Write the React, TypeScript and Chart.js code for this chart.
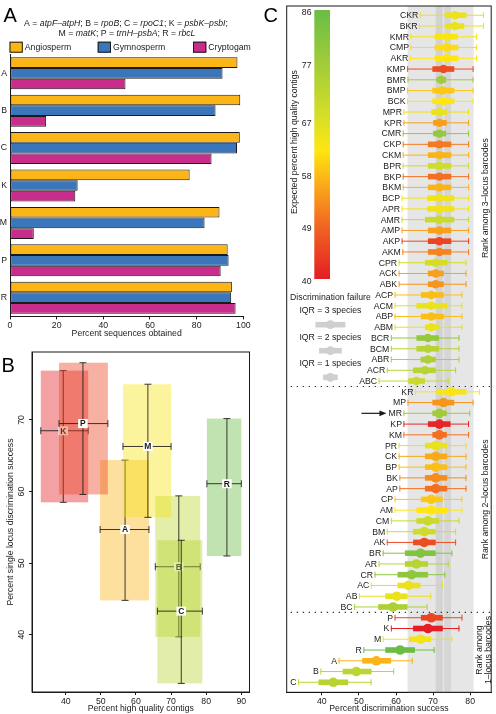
import React, { useEffect, useRef } from "react";
import { Chart, registerables } from "chart.js";

Chart.register(...registerables);

const FONT = "'Liberation Sans', Arial, Helvetica, sans-serif";
const INK = "#1a1a1a";

// ---------------- Panel A data ----------------
const geneLetters = ["A", "B", "C", "K", "M", "P", "R"];
const groupNames = ["Angiosperm", "Gymnosperm", "Cryptogam"];
const angiospermPct = [97.5, 98.7, 98.5, 77.0, 89.8, 93.3, 95.1];
const gymnospermPct = [91.1, 88.1, 97.3, 29.0, 83.4, 93.7, 94.8];
const cryptogamPct = [49.5, 15.5, 86.4, 28.0, 10.2, 90.3, 96.7];
const pctTicks = [0, 20, 40, 60, 80, 100];
const geneKeyLine1: [string, boolean][] = [
  ["A = ", false], ["atpF–atpH", true], ["; B = ", false], ["rpoB", true],
  ["; C = ", false], ["rpoC1", true], ["; K = ", false], ["psbK–psbI", true], [";", false],
];
const geneKeyLine2: [string, boolean][] = [
  ["M = ", false], ["matK", true], ["; P = ", false], ["trnH–psbA", true],
  ["; R = ", false], ["rbcL", true],
];

// ---------------- Panel B data ----------------
const contigLo = [49.8, 65.5, 66.1, 32.9, 56.3, 38.1, 80.2];
const contigMed = [56.9, 72.2, 72.9, 39.3, 63.4, 44.9, 85.9];
const contigHi = [63.7, 78.3, 78.9, 46.4, 70.0, 52.0, 90.0];
const singleLo = [44.8, 39.7, 33.2, 58.5, 56.4, 59.6, 51.0];
const singleMed = [54.7, 49.5, 43.3, 68.5, 66.3, 69.5, 61.1];
const singleHi = [64.4, 59.4, 53.2, 76.9, 75.0, 78.0, 70.2];
const contigTicks = [40, 50, 60, 70, 80, 90];
const singleTicks = [40, 50, 60, 70];

// ---------------- Panel C data ----------------
const rowNames = [
  "CKR", "BKR", "KMR", "CMP", "AKR", "KMP", "BMR", "BMP", "BCK", "MPR", "KPR", "CMR",
  "CKP", "CKM", "BPR", "BKP", "BKM", "BCP", "APR", "AMR", "AMP", "AKP", "AKM", "CPR",
  "ACK", "ABK", "ACP", "ACM", "ABP", "ABM", "BCR", "BCM", "ABR", "ACR", "ABC",
  "KR", "MP", "MR", "KP", "KM", "PR", "CK", "BP", "BK", "AP", "CP", "AM", "CM", "BM",
  "AK", "BR", "AR", "CR", "AC", "AB", "BC",
  "P", "K", "M", "R", "A", "B", "C",
];
const rowLo = [
  66.4, 66.2, 63.9, 63.9, 63.7, 63.0, 63.1, 63.0, 63.0, 62.0, 62.0, 61.8,
  61.8, 61.8, 61.8, 61.8, 61.8, 61.5, 61.5, 61.5, 61.5, 61.5, 61.7, 60.7,
  60.7, 60.7, 59.6, 59.6, 59.6, 59.6, 58.6, 58.6, 58.6, 57.5, 55.3,
  65.1, 63.1, 62.0, 62.0, 62.0, 60.7, 60.7, 60.7, 60.9, 60.9, 59.6, 59.6, 58.6, 57.5,
  57.5, 56.4, 55.3, 54.2, 53.2, 50.0, 48.7,
  59.6, 58.6, 56.4, 51.2, 44.5, 39.6, 33.6,
];
const rowQ1 = [
  73.1, 73.3, 70.4, 70.4, 70.4, 69.8, 70.9, 69.8, 69.8, 69.5, 70.0, 70.0,
  68.6, 68.6, 68.6, 68.6, 68.6, 68.4, 68.4, 67.8, 68.6, 68.6, 68.6, 67.8,
  68.6, 68.6, 66.7, 65.5, 66.7, 67.8, 65.5, 65.5, 66.6, 64.6, 63.3,
  70.9, 69.8, 69.8, 68.6, 69.8, 67.8, 67.8, 67.8, 67.8, 67.8, 66.7, 65.5, 65.5, 64.6,
  64.6, 62.4, 62.4, 60.4, 60.4, 57.1, 55.2,
  66.7, 64.6, 63.5, 57.1, 50.9, 45.6, 39.1,
];
const rowMed = [
  75.9, 75.9, 73.7, 73.7, 73.7, 72.8, 72.2, 72.5, 72.8, 71.7, 71.7, 71.7,
  71.7, 71.7, 71.7, 71.7, 71.7, 71.7, 71.7, 71.7, 71.7, 71.7, 71.7, 70.7,
  70.7, 70.7, 69.5, 69.5, 69.5, 69.5, 68.6, 68.6, 68.6, 67.8, 65.5,
  74.9, 72.8, 71.7, 71.7, 71.7, 70.7, 70.7, 70.7, 70.7, 70.7, 69.5, 69.5, 68.6, 67.6,
  67.6, 66.6, 65.5, 64.2, 63.3, 60.2, 59.2,
  69.5, 68.6, 66.6, 61.1, 54.7, 49.3, 43.1,
];
const rowQ3 = [
  79.0, 78.4, 76.6, 76.8, 76.8, 75.7, 73.5, 75.7, 75.7, 73.7, 73.7, 73.5,
  74.9, 74.9, 74.9, 74.9, 74.9, 75.7, 75.7, 75.7, 74.9, 74.9, 74.9, 73.8,
  72.9, 72.9, 72.9, 73.8, 72.9, 71.7, 71.6, 71.6, 70.7, 70.7, 67.8,
  79.0, 75.7, 73.7, 74.7, 73.7, 73.8, 73.8, 73.8, 73.8, 73.8, 72.6, 73.8, 71.6, 70.7,
  70.7, 70.7, 68.6, 68.6, 66.6, 63.1, 63.1,
  72.6, 72.6, 69.5, 65.1, 58.7, 53.4, 47.1,
];
const rowHi = [
  83.7, 83.7, 81.8, 81.8, 81.8, 80.9, 80.9, 80.9, 80.9, 79.7, 79.7, 79.7,
  79.7, 79.7, 79.7, 79.7, 79.7, 79.7, 79.7, 79.7, 79.7, 79.7, 79.7, 79.0,
  79.0, 79.0, 77.9, 77.9, 77.9, 77.9, 77.1, 77.1, 77.1, 76.2, 74.2,
  82.6, 80.9, 80.0, 79.7, 79.7, 79.0, 79.0, 79.0, 79.0, 79.0, 77.9, 77.9, 77.1, 76.2,
  76.2, 75.2, 74.2, 73.3, 72.6, 69.5, 68.5,
  77.9, 77.1, 75.2, 70.4, 64.5, 59.5, 53.4,
];
// expected percent high quality contigs (colour of each row)
const rowContigs = [
  65, 65, 63, 61, 62, 46, 77, 59, 62, 65, 55, 79,
  51, 57, 69, 50, 57, 64, 64, 70, 55, 45, 52, 68,
  55, 54, 58, 65, 58, 65, 79, 73, 75, 73, 70,
  63, 54, 77, 41, 50, 65, 56, 58, 53, 50, 59, 62, 70, 69,
  46, 82, 73, 80, 65, 65, 75,
  44.9, 39.3, 63.4, 85.9, 56.9, 72.2, 72.9,
];
const highlightedRow = "MR";
const successTicks = [40, 50, 60, 70, 80];
const bandLight = [63.1, 80.9];
const bandDark1 = [70.7, 72.6];
const bandDark2 = [73.0, 74.8];
const colorbarTicks = [86, 77, 67, 58, 49, 40];
const iqrLegend = ["IQR = 3 species", "IQR = 2 species", "IQR = 1 species"];

// colour scale of expected percent high quality contigs
const cmapValues = [40, 49, 55, 62, 67, 77, 86];
const cmapColors = ["#E31E24", "#F26522", "#F8A01C", "#FFE60F", "#DAE026", "#A0CC3A", "#6ABD45"];

function hexToRgb(h: string): number[] {
  const n = parseInt(h.slice(1), 16);
  return [(n >> 16) & 255, (n >> 8) & 255, n & 255];
}
function colormapRgb(v: number): number[] {
  const vs = cmapValues;
  if (v <= vs[0]) return hexToRgb(cmapColors[0]);
  if (v >= vs[vs.length - 1]) return hexToRgb(cmapColors[vs.length - 1]);
  for (let i = 0; i < vs.length - 1; i++) {
    if (v <= vs[i + 1]) {
      const t = (v - vs[i]) / (vs[i + 1] - vs[i]);
      const a = hexToRgb(cmapColors[i]);
      const b = hexToRgb(cmapColors[i + 1]);
      return a.map((c, k) => Math.round(c + (b[k] - c) * t));
    }
  }
  return hexToRgb(cmapColors[0]);
}
function colormap(v: number, alpha = 1): string {
  const [r, g, b] = colormapRgb(v);
  return `rgba(${r},${g},${b},${alpha})`;
}

const groupColors = ["#FBB517", "#3B75BA", "#C92D8B"];

function fixFit(size: number) {
  return (s: any) => {
    if (s.isHorizontal()) s.height = size;
    else s.width = size;
    s.paddingLeft = 0;
    s.paddingRight = 0;
    s.paddingTop = 0;
    s.paddingBottom = 0;
  };
}
function setTicks(values: number[]) {
  return (s: any) => {
    s.ticks = values.map((v) => ({ value: v }));
  };
}
function font(size: number, extra = "") {
  return `${extra ? extra + " " : ""}${size}px ${FONT}`;
}
function drawRich(ctx: CanvasRenderingContext2D, segs: [string, boolean][], cx: number, baseY: number, size: number) {
  let total = 0;
  const widths = segs.map(([t, it]) => {
    ctx.font = font(size, it ? "italic" : "");
    const w = ctx.measureText(t).width;
    total += w;
    return w;
  });
  let x = cx - total / 2;
  ctx.textAlign = "left";
  ctx.textBaseline = "alphabetic";
  segs.forEach(([t, it], i) => {
    ctx.font = font(size, it ? "italic" : "");
    ctx.fillText(t, x, baseY);
    x += widths[i];
  });
}
function rotText(ctx: CanvasRenderingContext2D, text: string, x: number, y: number) {
  ctx.save();
  ctx.translate(x, y);
  ctx.rotate(-Math.PI / 2);
  ctx.textAlign = "center";
  ctx.textBaseline = "middle";
  ctx.fillText(text, 0, 0);
  ctx.restore();
}

const axisFont = { family: FONT, size: 8.7 };

// ---------------- Panel A ----------------
const panelAPlugin = {
  id: "panelA",
  afterDraw(chart: any) {
    const ctx: CanvasRenderingContext2D = chart.ctx;
    ctx.save();
    ctx.fillStyle = "#000";
    ctx.font = font(20);
    ctx.textAlign = "left";
    ctx.textBaseline = "alphabetic";
    ctx.fillText("A", 3.5, 22);
    ctx.fillStyle = INK;
    drawRich(ctx, geneKeyLine1, 126, 25.8, 8.7);
    drawRich(ctx, geneKeyLine2, 127, 36.4, 8.7);
    const legendX = [9.5, 97.7, 193];
    groupNames.forEach((n, i) => {
      ctx.fillStyle = groupColors[i];
      ctx.fillRect(legendX[i], 41.7, 13.3, 11);
      ctx.strokeStyle = INK;
      ctx.lineWidth = 1;
      ctx.strokeRect(legendX[i] + 0.5, 42.2, 12.3, 10);
      ctx.fillStyle = INK;
      ctx.font = font(8.7);
      ctx.textAlign = "left";
      ctx.textBaseline = "middle";
      ctx.fillText(n, legendX[i] + 15.3, 47.4);
    });
    ctx.restore();
  },
};

function makeA(canvas: HTMLCanvasElement) {
  const series = [angiospermPct, gymnospermPct, cryptogamPct];
  return new Chart(canvas, {
    type: "bar",
    data: {
      labels: geneLetters,
      datasets: series.map((d, i) => ({
        label: groupNames[i],
        data: d,
        backgroundColor: groupColors[i],
        borderColor: INK,
        borderWidth: 1,
        borderSkipped: false,
        categoryPercentage: 0.856,
        barPercentage: 1,
      })),
    },
    options: {
      indexAxis: "y",
      responsive: false,
      animation: false,
      events: [],
      layout: { padding: { top: 54.6, right: 18.7, bottom: 0, left: 0 } },
      plugins: { legend: { display: false }, tooltip: { enabled: false } },
      scales: {
        x: {
          type: "linear",
          min: 0,
          max: 100,
          afterFit: fixFit(22.6),
          afterBuildTicks: setTicks(pctTicks),
          grid: { drawOnChartArea: false, drawTicks: true, tickLength: 3, color: INK },
          border: { display: true, color: INK, width: 1 },
          ticks: { font: axisFont, color: INK, padding: 1, maxRotation: 0 },
          title: { display: true, text: "Percent sequences obtained", font: axisFont, color: INK, padding: 0 },
        },
        y: {
          type: "category",
          afterFit: fixFit(10),
          grid: { display: false, drawTicks: false },
          border: { display: true, color: INK, width: 1 },
          ticks: { font: axisFont, color: INK, padding: 3 },
        },
      },
    } as any,
    plugins: [panelAPlugin],
  });
}

// ---------------- Panel B ----------------
const panelBPlugin = {
  id: "panelB",
  afterDatasetsDraw(chart: any) {
    const ctx: CanvasRenderingContext2D = chart.ctx;
    const ca = chart.chartArea;
    const x = chart.scales.x;
    const y = chart.scales.y;
    ctx.save();
    ctx.beginPath();
    ctx.rect(ca.left, ca.top, ca.right - ca.left, ca.bottom - ca.top);
    ctx.clip();
    geneLetters.forEach((g, i) => {
      const x0 = x.getPixelForValue(contigLo[i]);
      const x1 = x.getPixelForValue(contigHi[i]);
      const xm = x.getPixelForValue(contigMed[i]);
      const y0 = y.getPixelForValue(singleLo[i]);
      const y1 = y.getPixelForValue(singleHi[i]);
      const ym = y.getPixelForValue(singleMed[i]);
      ctx.fillStyle = colormap(contigMed[i], 0.42);
      ctx.fillRect(x0, y1, x1 - x0, y0 - y1);
      ctx.strokeStyle = "rgba(25,25,25,0.85)";
      ctx.lineWidth = 1;
      ctx.beginPath();
      ctx.moveTo(xm, y0); ctx.lineTo(xm, y1);
      ctx.moveTo(xm - 3.5, y0); ctx.lineTo(xm + 3.5, y0);
      ctx.moveTo(xm - 3.5, y1); ctx.lineTo(xm + 3.5, y1);
      ctx.moveTo(x0, ym); ctx.lineTo(x1, ym);
      ctx.moveTo(x0, ym - 3.5); ctx.lineTo(x0, ym + 3.5);
      ctx.moveTo(x1, ym - 3.5); ctx.lineTo(x1, ym + 3.5);
      ctx.stroke();
      ctx.fillStyle = "#fff";
      ctx.fillRect(xm - 4.8, ym - 4.5, 9.6, 9);
      ctx.fillStyle = INK;
      ctx.font = font(8.5, "bold");
      ctx.textAlign = "center";
      ctx.textBaseline = "middle";
      ctx.fillText(g, xm, ym + 0.5);
    });
    ctx.restore();
    ctx.save();
    ctx.strokeStyle = INK;
    ctx.lineWidth = 1;
    ctx.strokeRect(ca.left, ca.top, ca.right - ca.left, ca.bottom - ca.top);
    ctx.fillStyle = INK;
    ctx.font = font(8.7);
    singleTicks.forEach((v) => rotText(ctx, String(v), 21.7, y.getPixelForValue(v)));
    ctx.fillStyle = "#000";
    ctx.font = font(20);
    ctx.textAlign = "left";
    ctx.textBaseline = "alphabetic";
    ctx.fillText("B", 1.5, 31.6);
    ctx.restore();
  },
};

function makeB(canvas: HTMLCanvasElement) {
  return new Chart(canvas, {
    type: "scatter",
    data: {
      datasets: [
        {
          label: "loci",
          data: geneLetters.map((g, i) => ({ x: contigMed[i], y: singleMed[i] })),
          pointRadius: 0,
        },
      ],
    },
    options: {
      responsive: false,
      animation: false,
      events: [],
      layout: { padding: { top: 12, right: 0.5, bottom: 0, left: 0 } },
      plugins: { legend: { display: false }, tooltip: { enabled: false } },
      scales: {
        x: {
          type: "linear",
          min: 30.4,
          max: 92.33,
          afterFit: fixFit(22),
          afterBuildTicks: setTicks(contigTicks),
          grid: { drawOnChartArea: false, drawTicks: true, tickLength: 3, color: INK },
          border: { display: true, color: INK, width: 1 },
          ticks: { font: axisFont, color: INK, padding: 1, maxRotation: 0 },
          title: { display: true, text: "Percent high quality contigs", font: axisFont, color: INK, padding: 0 },
        },
        y: {
          type: "linear",
          min: 32,
          max: 79.5,
          afterFit: fixFit(32),
          afterBuildTicks: setTicks(singleTicks),
          grid: { drawOnChartArea: false, drawTicks: true, tickLength: 3, color: INK },
          border: { display: true, color: INK, width: 1 },
          ticks: { display: false },
          title: {
            display: true,
            text: "Percent single locus discrimination success",
            font: axisFont,
            color: INK,
            padding: { top: 5.3, bottom: 0 },
          },
        },
      },
    } as any,
    plugins: [panelBPlugin],
  });
}

// ---------------- Panel C ----------------
const rowColors = rowContigs.map((v) => colormap(v));

const panelCPlugin = {
  id: "panelC",
  beforeDatasetsDraw(chart: any) {
    const ctx: CanvasRenderingContext2D = chart.ctx;
    const ca = chart.chartArea;
    const x = chart.scales.x;
    const y = chart.scales.y;
    ctx.save();
    const band = (r: number[], c: string) => {
      const a = x.getPixelForValue(r[0]);
      const b = x.getPixelForValue(r[1]);
      ctx.fillStyle = c;
      ctx.fillRect(a, ca.top, b - a, ca.bottom - ca.top);
    };
    band(bandLight, "#E6E6E6");
    band(bandDark1, "#D3D3D3");
    band(bandDark2, "#D6D6D6");
    // dotted separators between 3-, 2- and 1-locus groups
    ctx.strokeStyle = "#333";
    ctx.lineWidth = 1.1;
    ctx.setLineDash([1.3, 4.7]);
    for (let i = 0; i < rowNames.length - 1; i++) {
      if (rowNames[i].length !== rowNames[i + 1].length) {
        const yy = y.getPixelForValue(i + 0.5);
        ctx.beginPath();
        ctx.moveTo(ca.left + 4, yy);
        ctx.lineTo(ca.right, yy);
        ctx.stroke();
      }
    }
    ctx.setLineDash([]);
    rowNames.forEach((n, i) => {
      const yy = y.getPixelForValue(i);
      const lo = x.getPixelForValue(rowLo[i]);
      const hi = x.getPixelForValue(rowHi[i]);
      const q1 = x.getPixelForValue(rowQ1[i]);
      const q3 = x.getPixelForValue(rowQ3[i]);
      ctx.strokeStyle = rowColors[i];
      ctx.lineWidth = 1;
      ctx.beginPath();
      ctx.moveTo(lo, yy); ctx.lineTo(hi, yy);
      ctx.moveTo(lo + 0.5, yy - 3); ctx.lineTo(lo + 0.5, yy + 3);
      ctx.moveTo(hi - 0.5, yy - 3); ctx.lineTo(hi - 0.5, yy + 3);
      ctx.stroke();
      ctx.fillStyle = rowColors[i];
      ctx.fillRect(q1, yy - 2.8, q3 - q1, 5.6);
    });
    ctx.restore();
  },
  afterDatasetsDraw(chart: any) {
    const ctx: CanvasRenderingContext2D = chart.ctx;
    const ca = chart.chartArea;
    const x = chart.scales.x;
    const y = chart.scales.y;
    ctx.save();
    // row labels
    ctx.font = font(8.7);
    ctx.fillStyle = INK;
    ctx.textAlign = "right";
    ctx.textBaseline = "middle";
    rowNames.forEach((n, i) => {
      const lo = x.getPixelForValue(rowLo[i]);
      const yy = y.getPixelForValue(i);
      ctx.fillText(n, lo - 1.5, yy + 0.5);
      if (n === highlightedRow) {
        const w = ctx.measureText(n).width;
        const end = lo - 1.5 - w - 2;
        const start = end - 25;
        ctx.strokeStyle = INK;
        ctx.lineWidth = 1.2;
        ctx.beginPath();
        ctx.moveTo(start, yy);
        ctx.lineTo(end - 5, yy);
        ctx.stroke();
        ctx.beginPath();
        ctx.moveTo(end, yy);
        ctx.lineTo(end - 7, yy - 2.8);
        ctx.lineTo(end - 7, yy + 2.8);
        ctx.closePath();
        ctx.fill();
      }
    });
    // colour bar legend
    const cbL = 64.3, cbR = 80, cbT = 10, cbB = 279;
    const vMax = colorbarTicks[0];
    const vMin = colorbarTicks[colorbarTicks.length - 1];
    const grad = ctx.createLinearGradient(0, cbT, 0, cbB);
    cmapValues.forEach((v, k) => {
      grad.addColorStop((vMax - v) / (vMax - vMin), cmapColors[k]);
    });
    ctx.fillStyle = grad;
    ctx.fillRect(cbL, cbT, cbR - cbL, cbB - cbT);
    ctx.fillStyle = INK;
    ctx.font = font(8.7);
    ctx.textAlign = "right";
    ctx.textBaseline = "middle";
    colorbarTicks.forEach((v) => {
      const yy = cbT + ((vMax - v) / (vMax - vMin)) * (cbB - cbT) + 2.7;
      ctx.fillText(String(v), 61.5, yy);
    });
    rotText(ctx, "Expected percent high quality contigs", 45, 142);
    // discrimination failure legend
    ctx.textAlign = "center";
    ctx.textBaseline = "middle";
    ctx.fillText("Discrimination failure", 80.4, 298);
    const legY = [311, 337.7, 364];
    const shapeY = [324.7, 350.7, 377.3];
    const shapeW = [30, 22.7, 14.6];
    iqrLegend.forEach((t, k) => {
      ctx.fillStyle = INK;
      ctx.textAlign = "center";
      ctx.fillText(t, 80.4, legY[k]);
      ctx.fillStyle = "#CFCFCF";
      ctx.fillRect(80.4 - shapeW[k] / 2, shapeY[k] - 2.8, shapeW[k], 5.6);
      ctx.beginPath();
      ctx.arc(80.4, shapeY[k], 4.4, 0, Math.PI * 2);
      ctx.fill();
    });
    // rank group labels
    ctx.fillStyle = INK;
    ctx.font = font(8.7);
    rotText(ctx, "Rank among 3–locus barcodes", 236, y.getPixelForValue(17));
    rotText(ctx, "Rank among 2–locus barcodes", 236, y.getPixelForValue(45));
    rotText(ctx, "Rank among", 229.5, y.getPixelForValue(59));
    rotText(ctx, "1–locus barcodes", 239, y.getPixelForValue(59));
    // frame
    ctx.strokeStyle = INK;
    ctx.lineWidth = 1;
    ctx.strokeRect(ca.left, ca.top, ca.right - ca.left, ca.bottom - ca.top);
    ctx.fillStyle = "#000";
    ctx.font = font(20);
    ctx.textAlign = "left";
    ctx.textBaseline = "alphabetic";
    ctx.fillText("C", 13.5, 22);
    ctx.restore();
  },
};

function makeC(canvas: HTMLCanvasElement) {
  return new Chart(canvas, {
    type: "scatter",
    data: {
      datasets: [
        {
          label: "median",
          data: rowNames.map((n, i) => ({ x: rowMed[i], y: i })),
          pointRadius: rowNames.map((n) => (n.length === 3 ? 4.2 : 4.8)),
          pointBackgroundColor: rowColors,
          pointBorderWidth: 0,
          pointBorderColor: rowColors,
        },
      ],
    },
    options: {
      responsive: false,
      animation: false,
      events: [],
      layout: { padding: { top: 6, right: 2, bottom: 0, left: 36.7 } },
      plugins: { legend: { display: false }, tooltip: { enabled: false } },
      scales: {
        x: {
          type: "linear",
          min: 30.53,
          max: 85.66,
          afterFit: fixFit(21.7),
          afterBuildTicks: setTicks(successTicks),
          grid: { drawOnChartArea: false, drawTicks: true, tickLength: 3, color: INK },
          border: { display: true, color: INK, width: 1 },
          ticks: { font: axisFont, color: INK, padding: 1, maxRotation: 0 },
          title: { display: true, text: "Percent discrimination success", font: axisFont, color: INK, padding: 0 },
        },
        y: {
          type: "linear",
          display: false,
          min: -0.86,
          max: 62.93,
          reverse: true,
        },
      },
    } as any,
    plugins: [panelCPlugin],
  });
}

export default function App() {
  const aRef = useRef<HTMLCanvasElement>(null);
  const bRef = useRef<HTMLCanvasElement>(null);
  const cRef = useRef<HTMLCanvasElement>(null);
  useEffect(() => {
    const charts = [makeA(aRef.current!), makeB(bRef.current!), makeC(cRef.current!)];
    return () => charts.forEach((c) => c.destroy());
  }, []);
  return (
    <div
      style={{
        position: "fixed",
        left: 0,
        top: 0,
        width: 496,
        height: 714,
        background: "#fff",
        overflow: "hidden",
      }}
    >
      <canvas ref={cRef} width={246} height={714} style={{ position: "absolute", left: 250, top: 0, width: 246, height: 714 }} />
      <canvas ref={aRef} width={262} height={339} style={{ position: "absolute", left: 0, top: 0, width: 262, height: 339 }} />
      <canvas ref={bRef} width={250} height={374} style={{ position: "absolute", left: 0, top: 340, width: 250, height: 374 }} />
    </div>
  );
}
